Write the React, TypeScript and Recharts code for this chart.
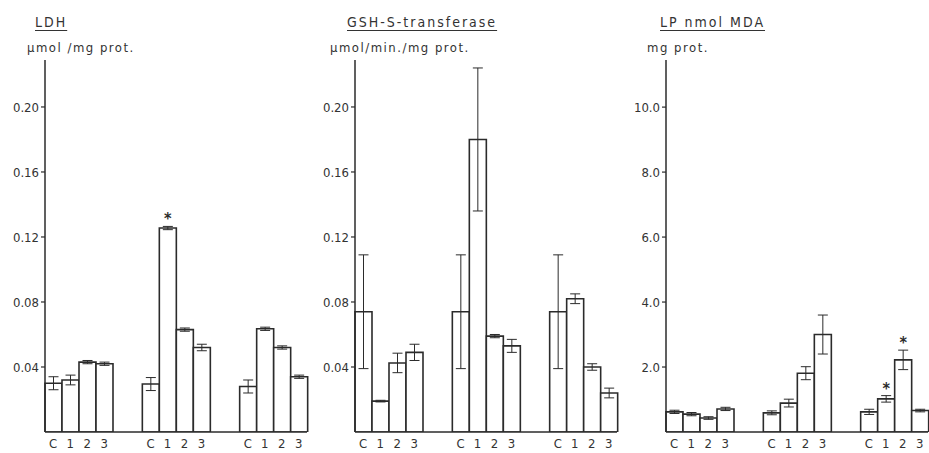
import React from 'react';
import { BarChart, Bar, XAxis, YAxis, ErrorBar, LabelList } from 'recharts';

// three experimental groups, four bars each (control + doses 1..3)
const groups = ['I', 'II', 'III'];
const barLabels = ['C', '1', '2', '3'];

// LDH, µmol/mg prot.
const ldhMean = [
  [0.030, 0.032, 0.043, 0.042],
  [0.0295, 0.1255, 0.063, 0.052],
  [0.028, 0.0635, 0.052, 0.034],
];
const ldhErr = [
  [0.004, 0.003, 0.001, 0.001],
  [0.004, 0.001, 0.001, 0.002],
  [0.004, 0.001, 0.001, 0.001],
];
const ldhStar = [
  [0, 0, 0, 0],
  [0, 1, 0, 0],
  [0, 0, 0, 0],
];
const ldhTicks = [0.04, 0.08, 0.12, 0.16, 0.2];

// GSH-S-transferase, µmol/min./mg prot.
const gstMean = [
  [0.074, 0.019, 0.0425, 0.049],
  [0.074, 0.18, 0.059, 0.053],
  [0.074, 0.082, 0.04, 0.024],
];
const gstErr = [
  [0.035, 0.0005, 0.006, 0.005],
  [0.035, 0.044, 0.001, 0.004],
  [0.035, 0.003, 0.002, 0.003],
];
const gstStar = [
  [0, 0, 0, 0],
  [0, 0, 0, 0],
  [0, 0, 0, 0],
];
const gstTicks = [0.04, 0.08, 0.12, 0.16, 0.2];

// LP, nmol MDA / mg prot.
const lpMean = [
  [0.62, 0.55, 0.43, 0.71],
  [0.59, 0.89, 1.81, 3.0],
  [0.62, 1.02, 2.22, 0.66],
];
const lpErr = [
  [0.05, 0.05, 0.04, 0.05],
  [0.06, 0.12, 0.2, 0.6],
  [0.08, 0.1, 0.3, 0.04],
];
const lpStar = [
  [0, 0, 0, 0],
  [0, 0, 0, 0],
  [0, 1, 1, 0],
];
const lpTicks = [2, 4, 6, 8, 10];

const INK = '#2b2b2b';
const TEXT = '#333';
const FONT = "'DejaVu Sans Condensed', 'DejaVu Sans', sans-serif";
const BAR_W = 17;

function GroupTick(props: any) {
  const { x, y } = props;
  return (
    <g>
      {barLabels.map((l, i) => (
        <text
          key={l}
          x={x + (i - 1.5) * BAR_W}
          y={y + 8}
          textAnchor="middle"
          fontSize={13}
          fontFamily={FONT}
          fill={TEXT}
        >
          {l}
        </text>
      ))}
    </g>
  );
}

interface PanelProps {
  left: number;
  width: number;
  right: number;
  mean: number[][];
  err: number[][];
  star: number[][];
  ticks: number[];
  max: number;
  digits: number;
}

function Panel({ left, width, right, mean, err, star, ticks, max, digits }: PanelProps) {
  const data = groups.map((g, gi) => {
    const row: Record<string, any> = { group: g };
    barLabels.forEach((_, bi) => {
      row['v' + bi] = mean[gi][bi];
      row['e' + bi] = err[gi][bi];
      row['s' + bi] = star[gi][bi];
    });
    return row;
  });

  const renderStar = (bi: number) => (p: any) => {
    const { x, y, width: w, height: h, index, value } = p;
    if (!value) return null;
    const pxPerUnit = h / mean[index][bi];
    const top = y - err[index][bi] * pxPerUnit;
    return (
      <text x={x + w / 2} y={top - 2} textAnchor="middle" fontSize={16} fontWeight="bold" fontFamily={FONT} fill={INK}>
        *
      </text>
    );
  };

  return (
    <div style={{ position: 'absolute', left, top: 0 }}>
      <BarChart
        width={width}
        height={453}
        data={data}
        margin={{ top: 60, right, bottom: 0, left: 0 }}
        barGap={0}
        barCategoryGap={15}
      >
        <XAxis
          dataKey="group"
          height={21}
          interval={0}
          padding={{ left: -15, right: -15 }}
          axisLine={{ stroke: INK, strokeWidth: 1.5 }}
          tickLine={false}
          tick={<GroupTick />}
        />
        <YAxis
          width={45}
          domain={[0, max]}
          ticks={ticks}
          allowDataOverflow
          tickSize={4}
          tickFormatter={(v: number) => v.toFixed(digits)}
          axisLine={{ stroke: INK, strokeWidth: 1.5 }}
          tickLine={{ stroke: INK, strokeWidth: 1.2 }}
          tick={{ fontSize: 13, fill: TEXT, fontFamily: FONT }}
        />
        {barLabels.map((l, bi) => (
          <Bar key={l} dataKey={'v' + bi} fill="#fff" stroke={INK} strokeWidth={1.6} isAnimationActive={false}>
            <ErrorBar dataKey={'e' + bi} width={5} stroke={INK} strokeWidth={1} isAnimationActive={false} />
            <LabelList dataKey={'s' + bi} content={renderStar(bi)} />
          </Bar>
        ))}
      </BarChart>
    </div>
  );
}

const titleStyle: React.CSSProperties = {
  position: 'absolute',
  fontFamily: FONT,
  fontSize: 14,
  lineHeight: '14px',
  color: TEXT,
  textDecoration: 'underline',
  textUnderlineOffset: 3,
  whiteSpace: 'nowrap',
  letterSpacing: 2,
};
const unitStyle: React.CSSProperties = {
  position: 'absolute',
  fontFamily: FONT,
  fontSize: 13,
  lineHeight: '13px',
  color: TEXT,
  whiteSpace: 'nowrap',
  letterSpacing: 1.5,
};

export default function App() {
  return (
    <div style={{ position: 'fixed', left: 0, top: 0, width: 929, height: 453, background: '#fff', overflow: 'hidden' }}>
      <div style={{ ...titleStyle, left: 35, top: 15 }}>LDH</div>
      <div style={{ ...unitStyle, left: 27, top: 41 }}>µmol /mg prot.</div>
      <div style={{ ...titleStyle, left: 347, top: 15 }}>GSH-S-transferase</div>
      <div style={{ ...unitStyle, left: 330, top: 41 }}>µmol/min./mg prot.</div>
      <div style={{ ...titleStyle, left: 660, top: 15 }}>LP nmol MDA</div>
      <div style={{ ...unitStyle, left: 647, top: 41 }}>mg prot.</div>

      <Panel left={0} width={320} right={13} mean={ldhMean} err={ldhErr} star={ldhStar} ticks={ldhTicks} max={0.2289} digits={2} />
      <Panel left={310} width={320} right={13} mean={gstMean} err={gstErr} star={gstStar} ticks={gstTicks} max={0.2289} digits={2} />
      <Panel left={621} width={308} right={1} mean={lpMean} err={lpErr} star={lpStar} ticks={lpTicks} max={11.45} digits={1} />
    </div>
  );
}
